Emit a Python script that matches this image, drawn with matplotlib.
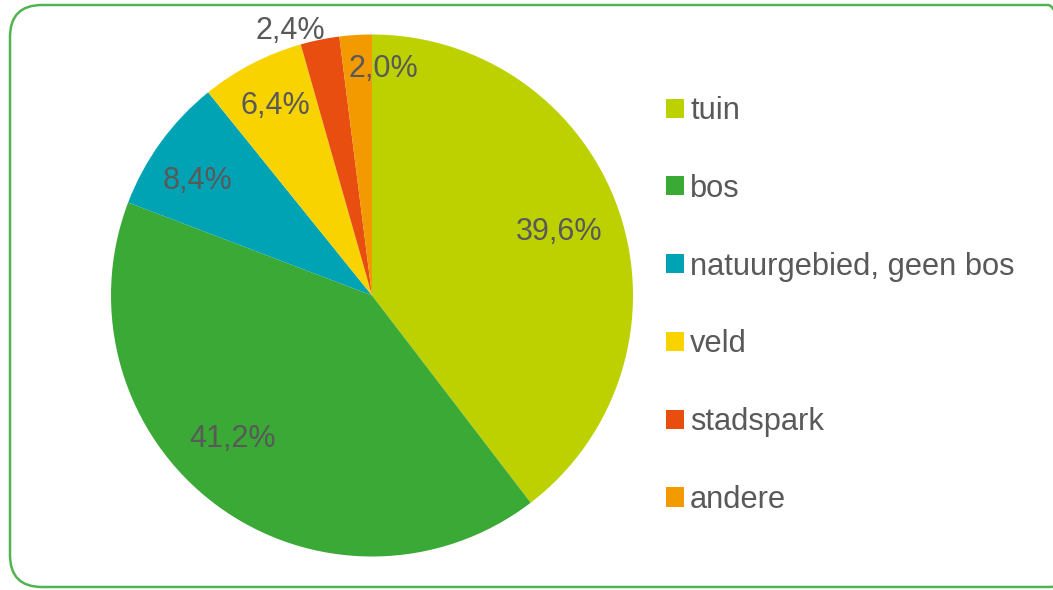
import matplotlib
matplotlib.use("Agg")
import matplotlib.pyplot as plt
from matplotlib.patches import Patch, FancyBboxPatch

categories = ["tuin", "bos", "natuurgebied, geen bos", "veld", "stadspark", "andere"]
values = [39.6, 41.2, 8.4, 6.4, 2.4, 2.0]
value_labels = ["39,6%", "41,2%", "8,4%", "6,4%", "2,4%", "2,0%"]
colors = ["#BDD000", "#3AA935", "#00A3B4", "#F8D300", "#E84E0F", "#F39A00"]
# label positions (pixel coords in reference image)
label_px = [(559, 232), (233, 439), (198, 181), (275, 106), (290, 31), (383, 69)]

W, H = 1053, 590
plt.rcParams['font.family'] = ['Liberation Sans', 'DejaVu Sans']
fig = plt.figure(figsize=(W / 100, H / 100), dpi=100)

cx, cy, R = 372, 295.5, 261
ax = fig.add_axes([(cx - R) / W, (H - cy - R) / H, 2 * R / W, 2 * R / H])
wedges, _ = ax.pie(values, colors=colors, startangle=90, counterclock=False,
                   radius=1, wedgeprops=dict(linewidth=0))
ax.set_xlim(-1, 1)
ax.set_ylim(-1, 1)
ax.set_aspect('equal')
ax.axis('off')

for lab, (px, py) in zip(value_labels, label_px):
    ax.text((px - cx) / R, (cy - py) / R, lab, ha='center', va='center',
            fontsize=22, color='#595959', clip_on=False)

handles = [Patch(facecolor=c, edgecolor='none') for c in colors]
fig.legend(handles, categories, loc='upper left',
           bbox_to_anchor=(666 / W, 1 - 96 / H), frameon=False,
           fontsize=22.2, labelcolor='#595959', handlelength=0.58,
           handleheight=0.58, handletextpad=0.2, labelspacing=1.55,
           borderpad=0, borderaxespad=0)

border = FancyBboxPatch((10, 3), 1070, 582,
                        boxstyle="round,pad=0,rounding_size=32",
                        transform=None, facecolor='none',
                        edgecolor='#52B450', linewidth=1.8)
fig.patches.append(border)

fig.savefig("out.png", dpi=100)
